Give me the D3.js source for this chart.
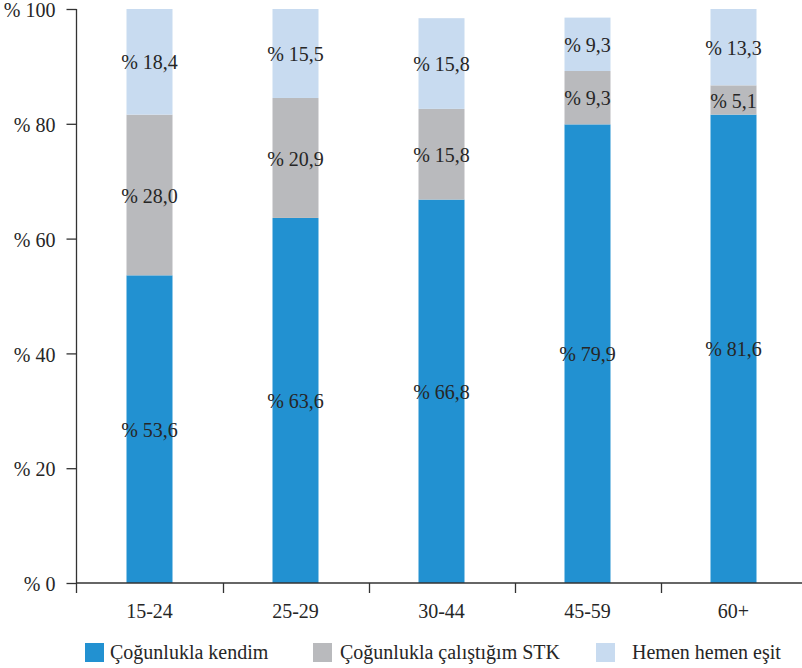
<!DOCTYPE html>
<html><head><meta charset="utf-8">
<script src="https://cdn.jsdelivr.net/npm/d3@7"></script>
<style>body{margin:0;background:#fff}svg{display:block}</style>
</head><body><svg id="c" width="802" height="668" font-family="Liberation Serif"></svg>
<script>
const categories = ["15-24","25-29","30-44","45-59","60+"];
const seriesNames = ["Çoğunlukla kendim","Çoğunlukla çalıştığım STK","Hemen hemen eşit"];
const kendim = [53.6,63.6,66.8,79.9,81.6];
const stk = [28.0,20.9,15.8,9.3,5.1];
const esit = [18.4,15.5,15.8,9.3,13.3];
const yTicks = [0,20,40,60,80,100];
const colors = ["#2291d1","#b9babd","#c8dbf0"];
const FONT = '"Liberation Serif"';
const TXT = "#262626";

const svg = d3.select("#c");
const x0 = 76.5, x1 = 806.5, yTop = 9, yBot = 583;
const x = d3.scaleBand().domain(categories).range([x0,x1]).paddingInner(0).paddingOuter(0);
const y = d3.scaleLinear().domain([0,100]).range([yBot,yTop]);
const barW = 46;

const rows = categories.map((c,i)=>({cat:c,kendim:kendim[i],stk:stk[i],esit:esit[i]}));
const stack = d3.stack().keys(["kendim","stk","esit"])(rows);

function styleText(sel){
  sel.attr("font-family","Liberation Serif").attr("font-size",20)
     .style("font-family",FONT).style("font-size","20px").style("fill",TXT);
}

stack.forEach((layer,li)=>{
  const g = svg.append("g");
  g.selectAll("rect").data(layer).join("rect")
    .attr("x",d=>x(d.data.cat)+x.bandwidth()/2-barW/2)
    .attr("width",barW)
    .attr("y",d=>y(d[1]))
    .attr("height",d=>y(d[0])-y(d[1]))
    .attr("fill",colors[li]);
  g.selectAll("text").data(layer).join("text")
    .attr("x",d=>x(d.data.cat)+x.bandwidth()/2)
    .attr("y",d=>(y(d[0])+y(d[1]))/2+3)
    .attr("text-anchor","middle")
    .attr("dominant-baseline","middle")
    .call(styleText)
    .text(d=>"% "+d3.format(".1f")(d[1]-d[0]).replace(".",","));
});

// y axis
const yAxis = d3.axisLeft(y).tickValues(yTicks).tickSize(10).tickPadding(11).tickFormat(d=>"% "+d);
const ga = svg.append("g").attr("transform",`translate(${x0},0)`).call(yAxis);
ga.attr("font-family","Liberation Serif").attr("font-size",20);
ga.select(".domain").attr("d",`M0,${yTop}V${yBot+10}`).attr("stroke","#333").attr("stroke-width",1.3);
ga.selectAll(".tick line").attr("stroke","#333").attr("stroke-width",1.3);
ga.selectAll("text").attr("dy","0.38em").call(styleText);

// x axis
const xAxis = d3.axisBottom(x).tickSize(0).tickPadding(21);
const gx = svg.append("g").attr("transform",`translate(0,${yBot})`).call(xAxis);
gx.attr("font-family","Liberation Serif").attr("font-size",20);
gx.select(".domain").attr("stroke","#333").attr("stroke-width",1.3).attr("d",`M${x0},0H${x1}`);
gx.selectAll("text").call(styleText);
svg.append("g").selectAll("line").data(categories.slice(1)).join("line")
  .attr("x1",d=>Math.round(x(d))+0.5).attr("x2",d=>Math.round(x(d))+0.5)
  .attr("y1",yBot).attr("y2",yBot+10).attr("stroke","#333").attr("stroke-width",1.3);

// legend
const legX = [85,313,596], legTX = [110,340,632];
const lg = svg.append("g");
seriesNames.forEach((n,i)=>{
  lg.append("rect").attr("x",legX[i]).attr("y",643).attr("width",19).attr("height",19).attr("fill",colors[i]);
  lg.append("text").attr("x",legTX[i]).attr("y",654).attr("dominant-baseline","middle")
    .call(styleText).text(n);
});
</script></body></html>
